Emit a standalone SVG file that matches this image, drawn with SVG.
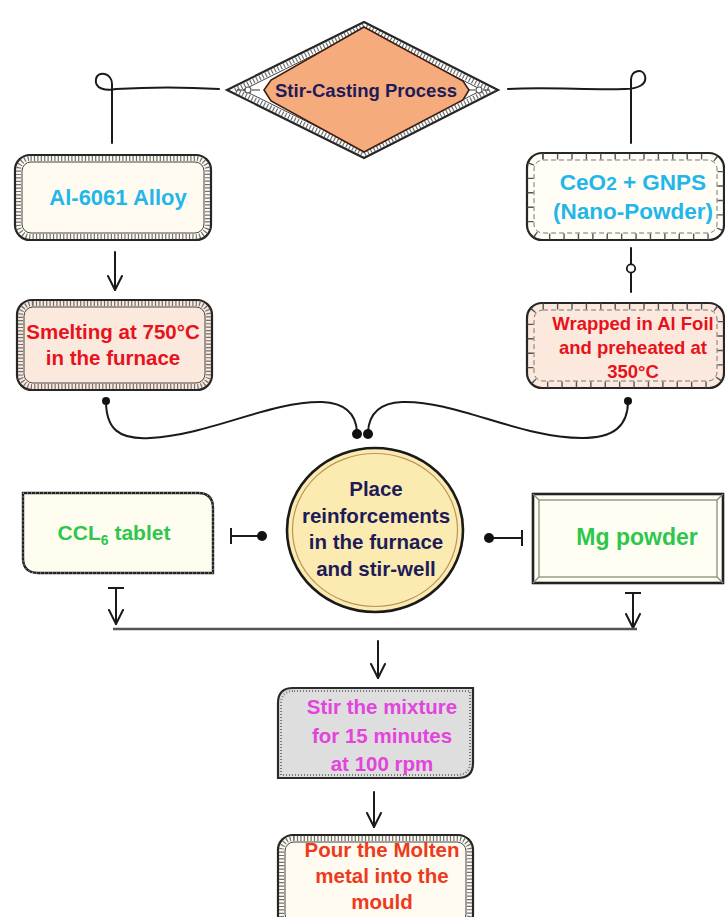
<svg xmlns="http://www.w3.org/2000/svg" width="725" height="917" viewBox="0 0 725 917">
<style>
text{font-family:"Liberation Sans",Arial,sans-serif;font-weight:bold;text-anchor:middle}
.line{fill:none;stroke:#1a1a1a;stroke-width:2;stroke-linecap:round}
.hout{stroke:#262626;stroke-width:2.2}
.hhatch{fill:none;stroke:#707070;stroke-width:5;stroke-dasharray:1.2 2.2}
.hin{fill:none;stroke:#444;stroke-width:1}
.lhatch{fill:none;stroke:#555;stroke-width:6;stroke-dasharray:1.4 13}
.lin{fill:none;stroke:#777;stroke-width:1;stroke-dasharray:5 3}
.cyan{fill:#22b7e8}
.red{fill:#e8121c}
.navy{fill:#1d1b58}
.green{fill:#2ec64c}
.mag{fill:#e344dc}
.ored{fill:#ee3a1c}
</style>
<defs>
<marker id="vee" viewBox="0 0 16 16" refX="15" refY="8" markerWidth="16" markerHeight="16" orient="auto" markerUnits="userSpaceOnUse">
<path d="M1,1 L15,8 L1,15" fill="none" stroke="#1a1a1a" stroke-width="2" stroke-linecap="round" stroke-linejoin="round"/>
</marker>
<marker id="bar" viewBox="0 0 4 18" refX="2" refY="9" markerWidth="4" markerHeight="18" orient="auto" markerUnits="userSpaceOnUse">
<path d="M2,1 L2,17" stroke="#1a1a1a" stroke-width="2"/>
</marker>
<marker id="dot" viewBox="0 0 12 12" refX="6" refY="6" markerWidth="12" markerHeight="12" orient="auto" markerUnits="userSpaceOnUse">
<circle cx="6" cy="6" r="5" fill="#111"/>
</marker>
<marker id="sdot" viewBox="0 0 10 10" refX="5" refY="5" markerWidth="10" markerHeight="10" markerUnits="userSpaceOnUse">
<circle cx="5" cy="5" r="4" fill="#111"/>
</marker>
</defs>
<rect width="725" height="917" fill="#ffffff"/>

<g id="connectors">
<path class="line" d="M112,143 L112,84 C112,73 98,70 96,79 C94,89 106,91 116,89 C150,87 185,87 219,89"/>
<path class="line" d="M508,89 C545,87 590,90 624,89 C639,89 647,84 645,76 C643,68 631,70 631,80 L631,143"/>
<line class="line" x1="115" y1="252" x2="115" y2="290" marker-end="url(#vee)"/>
<line class="line" x1="631" y1="248" x2="631" y2="264"/>
<circle cx="631" cy="268.5" r="4.2" fill="#fff" stroke="#1a1a1a" stroke-width="1.8"/>
<line class="line" x1="631" y1="273" x2="631" y2="292"/>
<path class="line" d="M106,401 C106,428 118,440 150,438 C210,435 270,401 322,402 C345,403 356,414 357,432" marker-start="url(#sdot)"/>
<path class="line" d="M368,432 C369,414 380,403 402,402 C455,400 520,438 582,438 C614,438 628,426 628,401" marker-end="url(#sdot)"/>
<circle cx="357" cy="434" r="5" fill="#111"/>
<circle cx="368" cy="434" r="5" fill="#111"/>
<line class="line" x1="231" y1="536" x2="262" y2="536" marker-start="url(#bar)" marker-end="url(#dot)"/>
<line class="line" x1="522" y1="538" x2="489" y2="538" marker-start="url(#bar)" marker-end="url(#dot)"/>
<line class="line" x1="116" y1="588" x2="116" y2="624" marker-start="url(#bar)" marker-end="url(#vee)"/>
<line class="line" x1="633" y1="593" x2="633" y2="628" marker-start="url(#bar)" marker-end="url(#vee)"/>
<line x1="113" y1="629" x2="637" y2="629" stroke="#555" stroke-width="2.6"/>
<line class="line" x1="378" y1="641" x2="378" y2="678" marker-end="url(#vee)"/>
<line class="line" x1="374" y1="792" x2="374" y2="827" marker-end="url(#vee)"/>
</g>

<g id="node-start">
<polygon points="227,90 364,22 498,90 364,158" fill="#fff" class="hout"/>
<polygon points="235,90 364,26 490,90 364,154" class="hhatch" stroke-width="4"/>
<polygon points="243,90 364,30 482,90 364,150" class="hin"/>
<line x1="237" y1="90" x2="244" y2="90" stroke="#555" stroke-width="1.2"/>
<circle cx="248" cy="90" r="3" fill="#fff" stroke="#555" stroke-width="1.2"/>
<line x1="252" y1="90" x2="260" y2="90" stroke="#555" stroke-width="1.2"/>
<line x1="467" y1="90" x2="475" y2="90" stroke="#555" stroke-width="1.2"/>
<circle cx="479" cy="90" r="3" fill="#fff" stroke="#555" stroke-width="1.2"/>
<line x1="483" y1="90" x2="489" y2="90" stroke="#555" stroke-width="1.2"/>
<polygon points="364,27 463,81 469,90 463,100 364,152 271,101 264,90 271,80" fill="#f6ab7c" stroke="#3b1e12" stroke-width="1.6"/>
<text x="366" y="97" font-size="18.5" class="navy">Stir-Casting Process</text>
</g>

<g id="node-alloy">
<rect x="15" y="155" width="196" height="85" rx="15" fill="#fffbf1" class="hout"/>
<rect x="18.5" y="158.5" width="189" height="78" rx="12" class="hhatch"/>
<rect x="22" y="162" width="182" height="71" rx="9" class="hin"/>
<text x="118" y="205" font-size="22" class="cyan">Al-6061 Alloy</text>
</g>

<g id="node-nano">
<rect x="527" y="153" width="197" height="87" rx="15" fill="#fffdf6" class="hout"/>
<rect x="530.5" y="156.5" width="190" height="80" rx="12" class="lhatch"/>
<rect x="534" y="160" width="183" height="73" rx="9" class="lin"/>
<text x="633" y="190" font-size="22.5" class="cyan">CeO<tspan font-size="19">2</tspan> + GNPS</text>
<text x="633" y="219" font-size="22.5" class="cyan">(Nano-Powder)</text>
</g>

<g id="node-smelt">
<rect x="17" y="300" width="195" height="90" rx="15" fill="#fbe9dd" class="hout"/>
<rect x="20.5" y="303.5" width="188" height="83" rx="12" class="hhatch"/>
<rect x="24" y="307" width="181" height="76" rx="9" class="hin"/>
<text x="113" y="339" font-size="20.5" class="red">Smelting at 750°C</text>
<text x="113" y="365" font-size="20.5" class="red">in the furnace</text>
</g>

<g id="node-wrap">
<rect x="527" y="303" width="197" height="85" rx="15" fill="#fbe9dd" class="hout"/>
<rect x="530.5" y="306.5" width="190" height="78" rx="12" class="lhatch"/>
<rect x="534" y="310" width="183" height="71" rx="9" class="lin"/>
<text x="633" y="330" font-size="18.5" class="red">Wrapped in Al Foil</text>
<text x="633" y="354" font-size="18.5" class="red">and preheated at</text>
<text x="633" y="378" font-size="18.5" class="red">350°C</text>
</g>

<g id="node-place">
<ellipse cx="375" cy="530" rx="88" ry="82" fill="#fcebb0" stroke="#1a1a1a" stroke-width="2.6"/>
<ellipse cx="375" cy="530" rx="82.5" ry="76.5" fill="none" stroke="#b8955a" stroke-width="1.2"/>
<text x="376" y="496" font-size="20.5" class="navy">Place</text>
<text x="376" y="523" font-size="20.5" class="navy">reinforcements</text>
<text x="376" y="549" font-size="20.5" class="navy">in the furnace</text>
<text x="376" y="576" font-size="20.5" class="navy">and stir-well</text>
</g>

<g id="node-ccl">
<path d="M23,493 H198 Q213,493 213,508 V573 H38 Q23,573 23,558 Z" fill="#fffdf0" stroke="#222" stroke-width="2.4"/>
<path d="M23,493 H198 Q213,493 213,508 V573 H38 Q23,573 23,558 Z" fill="none" stroke="#fff" stroke-width="0.8" stroke-dasharray="1 3"/>
<text x="114" y="540" font-size="21" class="green">CCL<tspan font-size="14" dy="5">6</tspan><tspan dy="-5"> tablet</tspan></text>
</g>

<g id="node-mg">
<rect x="533" y="494" width="190" height="89" fill="#fffef2" stroke="#222" stroke-width="2.6"/>
<rect x="539" y="500" width="178" height="77" fill="none" stroke="#8a8a80" stroke-width="1.3"/>
<path d="M533,494 L539,500 M723,494 L717,500 M533,583 L539,577 M723,583 L717,577" stroke="#8a8a80" stroke-width="1.2"/>
<text x="637" y="545" font-size="23" class="green">Mg powder</text>
</g>

<g id="node-stir">
<path d="M293,688 H473 V763 Q473,778 458,778 H278 V703 Q278,688 293,688 Z" fill="#dedede" stroke="#2a2a2a" stroke-width="2.2"/>
<path d="M294,691 H470 V762 Q470,775 457,775 H281 V704 Q281,691 294,691 Z" fill="none" stroke="#777" stroke-width="2" stroke-dasharray="1 2"/>
<text x="382" y="714" font-size="20.5" class="mag">Stir the mixture</text>
<text x="382" y="743" font-size="20.5" class="mag">for 15 minutes</text>
<text x="382" y="771" font-size="20.5" class="mag">at 100 rpm</text>
</g>

<g id="node-pour">
<rect x="278" y="835" width="195" height="95" rx="15" fill="#fffbf1" class="hout"/>
<rect x="281.5" y="838.5" width="188" height="88" rx="12" class="hhatch"/>
<rect x="285" y="842" width="181" height="81" rx="9" class="hin"/>
<text x="382" y="857" font-size="20.5" class="ored">Pour the Molten</text>
<text x="382" y="883" font-size="20.5" class="ored">metal into the</text>
<text x="382" y="909" font-size="20.5" class="ored">mould</text>
</g>
</svg>
